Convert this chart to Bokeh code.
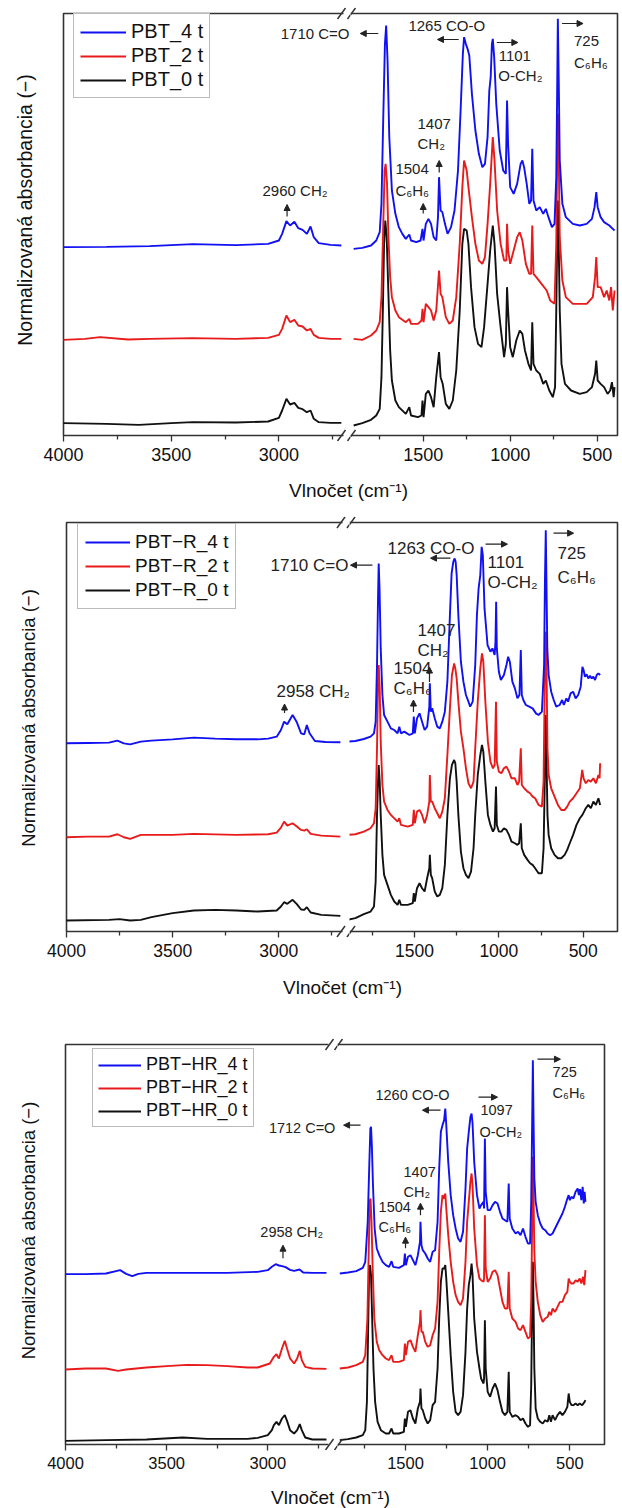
import math
from bokeh.plotting import figure
from bokeh.layouts import column, row
from bokeh.models import (Range1d, LinearAxis, FixedTicker, Legend, LegendItem,
                          Label, Arrow, NormalHead)
from bokeh.embed import file_html
from bokeh.resources import INLINE

# ----------------------------------------------------------------------------
# DATA  (wavenumber cm^-1, normalized absorbance incl. vertical offset)
# ----------------------------------------------------------------------------
pbt4 = [(4000, 0.570), (3800, 0.571), (3600, 0.573), (3400, 0.579), (3200, 0.576), (3050, 0.580),
        (3000, 0.590), (2985, 0.610), (2965, 0.648), (2948, 0.635), (2928, 0.646), (2910, 0.627),
        (2890, 0.622), (2870, 0.610), (2853, 0.632), (2838, 0.600), (2815, 0.582), (2760, 0.577),
        (2710, 0.575),
        (1900, 0.565), (1850, 0.568), (1800, 0.575), (1770, 0.590), (1750, 0.615), (1740, 0.700),
        (1730, 0.950), (1720, 1.180), (1713, 1.235), (1705, 1.130), (1695, 0.900), (1680, 0.740),
        (1660, 0.670), (1640, 0.630), (1620, 0.610), (1600, 0.595), (1580, 0.608), (1570, 0.590),
        (1540, 0.585), (1515, 0.590), (1504, 0.625), (1498, 0.590), (1485, 0.640), (1470, 0.655),
        (1455, 0.640), (1440, 0.600), (1425, 0.590), (1415, 0.660), (1409, 0.780), (1400, 0.680),
        (1390, 0.675), (1375, 0.640), (1360, 0.610), (1340, 0.630), (1320, 0.680), (1300, 0.800),
        (1285, 0.980), (1272, 1.150), (1265, 1.200), (1255, 1.180), (1245, 1.165), (1235, 1.145),
        (1220, 1.030), (1200, 0.920), (1180, 0.850), (1160, 0.810), (1145, 0.820), (1130, 0.900),
        (1120, 1.040), (1112, 1.080), (1105, 1.180), (1100, 1.195), (1092, 1.140), (1080, 1.000),
        (1060, 0.860), (1040, 0.800), (1025, 0.790), (1018, 1.010), (1012, 0.880), (1000, 0.750),
        (980, 0.730), (960, 0.760), (940, 0.820), (930, 0.830), (920, 0.810), (905, 0.760),
        (890, 0.700), (880, 0.710), (873, 0.865), (866, 0.710), (850, 0.680), (830, 0.690),
        (810, 0.670), (795, 0.685), (780, 0.660), (760, 0.630), (745, 0.640), (735, 0.780),
        (730, 1.030), (726, 1.255), (721, 1.080), (715, 0.830), (700, 0.700), (680, 0.660),
        (640, 0.640), (600, 0.635), (560, 0.640), (530, 0.655), (515, 0.690), (505, 0.735),
        (497, 0.690), (480, 0.660), (460, 0.645), (430, 0.635), (410, 0.625), (400, 0.620)]

pbt2 = [(4000, 0.292), (3900, 0.295), (3830, 0.300), (3700, 0.293), (3600, 0.295), (3400, 0.297),
        (3200, 0.295), (3050, 0.298), (3000, 0.307), (2985, 0.325), (2965, 0.365), (2948, 0.345),
        (2928, 0.352), (2910, 0.335), (2890, 0.332), (2870, 0.320), (2853, 0.325), (2838, 0.307),
        (2815, 0.298), (2760, 0.295), (2710, 0.295),
        (1900, 0.295), (1850, 0.292), (1800, 0.305), (1770, 0.320), (1750, 0.345), (1740, 0.420),
        (1730, 0.630), (1722, 0.800), (1716, 0.820), (1708, 0.760), (1700, 0.600), (1690, 0.480),
        (1680, 0.420), (1660, 0.380), (1640, 0.360), (1600, 0.345), (1580, 0.355), (1570, 0.340),
        (1530, 0.340), (1510, 0.350), (1504, 0.385), (1498, 0.345), (1485, 0.400), (1470, 0.390),
        (1455, 0.380), (1440, 0.350), (1425, 0.380), (1409, 0.500), (1400, 0.430), (1390, 0.420),
        (1370, 0.360), (1350, 0.340), (1330, 0.350), (1310, 0.420), (1290, 0.580), (1275, 0.750),
        (1265, 0.830), (1250, 0.800), (1240, 0.750), (1220, 0.660), (1200, 0.580), (1180, 0.530),
        (1160, 0.520), (1145, 0.540), (1130, 0.640), (1115, 0.760), (1100, 0.900), (1090, 0.830),
        (1075, 0.680), (1055, 0.580), (1035, 0.530), (1022, 0.530), (1018, 0.640), (1012, 0.560),
        (1000, 0.520), (980, 0.560), (960, 0.600), (945, 0.615), (930, 0.590), (910, 0.520),
        (890, 0.490), (880, 0.490), (873, 0.635), (866, 0.490), (850, 0.480), (820, 0.460),
        (790, 0.440), (770, 0.410), (745, 0.400), (735, 0.580), (730, 0.830), (726, 0.970),
        (721, 0.850), (715, 0.600), (700, 0.470), (680, 0.420), (640, 0.400), (600, 0.400),
        (560, 0.400), (525, 0.420), (512, 0.480), (505, 0.540), (497, 0.450), (480, 0.450),
        (460, 0.420), (445, 0.440), (430, 0.410), (420, 0.450), (410, 0.380), (400, 0.440)]

pbt0 = [(4000, 0.042), (3800, 0.040), (3650, 0.037), (3500, 0.042), (3400, 0.045), (3200, 0.044),
        (3050, 0.047), (3000, 0.058), (2985, 0.080), (2965, 0.115), (2948, 0.098), (2928, 0.103),
        (2910, 0.088), (2890, 0.084), (2870, 0.075), (2853, 0.080), (2838, 0.055), (2815, 0.045),
        (2760, 0.043), (2710, 0.043),
        (1900, 0.035), (1850, 0.042), (1800, 0.052), (1770, 0.065), (1750, 0.085), (1740, 0.180),
        (1732, 0.380), (1725, 0.580), (1718, 0.650), (1710, 0.600), (1700, 0.430), (1690, 0.260),
        (1680, 0.170), (1660, 0.110), (1640, 0.090), (1600, 0.070), (1580, 0.090), (1570, 0.065),
        (1530, 0.060), (1510, 0.065), (1504, 0.110), (1498, 0.060), (1485, 0.130), (1470, 0.140),
        (1455, 0.120), (1440, 0.090), (1425, 0.180), (1409, 0.255), (1400, 0.180), (1388, 0.160),
        (1370, 0.100), (1350, 0.085), (1330, 0.110), (1310, 0.200), (1290, 0.380), (1275, 0.580),
        (1265, 0.625), (1250, 0.620), (1240, 0.580), (1225, 0.450), (1205, 0.330), (1185, 0.280),
        (1165, 0.270), (1150, 0.330), (1130, 0.460), (1115, 0.560), (1100, 0.635), (1090, 0.580),
        (1075, 0.430), (1055, 0.330), (1035, 0.240), (1025, 0.280), (1018, 0.450), (1012, 0.380),
        (1000, 0.270), (985, 0.240), (965, 0.290), (945, 0.320), (930, 0.310), (915, 0.260),
        (895, 0.220), (880, 0.200), (873, 0.345), (866, 0.220), (850, 0.200), (830, 0.190),
        (810, 0.160), (795, 0.170), (775, 0.140), (755, 0.120), (742, 0.150), (735, 0.380),
        (730, 0.580), (726, 0.710), (721, 0.580), (715, 0.380), (705, 0.220), (685, 0.160),
        (650, 0.140), (600, 0.130), (560, 0.135), (530, 0.150), (512, 0.190), (505, 0.230),
        (497, 0.170), (480, 0.160), (460, 0.150), (440, 0.130), (425, 0.140), (415, 0.165),
        (405, 0.120), (400, 0.150)]

pbtr4 = [(4000, 0.565), (3900, 0.566), (3800, 0.567), (3760, 0.573), (3730, 0.565), (3700, 0.562),
         (3650, 0.570), (3600, 0.573), (3500, 0.577), (3400, 0.582), (3300, 0.579), (3200, 0.577),
         (3100, 0.577), (3050, 0.579), (3010, 0.585), (2990, 0.605), (2975, 0.630), (2960, 0.622),
         (2935, 0.650), (2915, 0.628), (2895, 0.595), (2880, 0.592), (2868, 0.620), (2855, 0.595),
         (2830, 0.572), (2780, 0.569), (2710, 0.568),
         (1900, 0.570), (1850, 0.572), (1800, 0.578), (1760, 0.585), (1740, 0.595), (1730, 0.630),
         (1722, 0.800), (1716, 1.000), (1712, 1.105), (1707, 1.030), (1700, 0.850), (1690, 0.710),
         (1680, 0.650), (1660, 0.630), (1640, 0.610), (1620, 0.605), (1600, 0.595), (1590, 0.615),
         (1580, 0.595), (1560, 0.600), (1530, 0.590), (1510, 0.595), (1504, 0.645), (1498, 0.595),
         (1485, 0.640), (1470, 0.655), (1455, 0.630), (1440, 0.605), (1425, 0.615), (1412, 0.675),
         (1409, 0.745), (1403, 0.660), (1395, 0.670), (1380, 0.640), (1365, 0.615), (1350, 0.610),
         (1335, 0.630), (1320, 0.660), (1305, 0.750), (1290, 0.950), (1280, 1.075), (1270, 1.110),
         (1262, 1.120), (1256, 1.110), (1250, 1.070), (1240, 0.950), (1225, 0.810), (1210, 0.750),
         (1195, 0.710), (1180, 0.690), (1170, 0.675), (1155, 0.690), (1140, 0.800), (1130, 0.950),
         (1120, 1.030), (1110, 1.070), (1102, 1.155), (1095, 1.130), (1085, 0.970), (1067, 0.860),
         (1050, 0.840), (1038, 0.850), (1025, 0.830), (1020, 0.870), (1016, 0.990), (1012, 0.850),
         (1000, 0.780), (988, 0.755), (970, 0.770), (955, 0.800), (945, 0.825), (935, 0.810),
         (920, 0.750), (905, 0.730), (890, 0.700), (878, 0.710), (870, 0.845), (864, 0.710),
         (855, 0.695), (840, 0.680), (820, 0.675), (800, 0.670), (780, 0.655), (765, 0.650),
         (745, 0.660), (732, 0.800), (727, 1.050), (722, 1.205), (718, 1.050), (713, 0.850),
         (705, 0.770), (690, 0.720), (675, 0.695), (660, 0.675), (640, 0.680), (625, 0.695),
         (615, 0.680), (600, 0.700), (590, 0.690), (575, 0.715), (560, 0.720), (545, 0.700),
         (530, 0.710), (515, 0.735), (505, 0.795), (498, 0.785), (490, 0.765), (480, 0.772),
         (470, 0.760), (460, 0.768), (450, 0.760), (440, 0.765), (430, 0.755), (420, 0.770),
         (410, 0.775), (400, 0.770)]

pbtr2 = [(4000, 0.283), (3900, 0.285), (3800, 0.285), (3760, 0.292), (3730, 0.283), (3700, 0.278),
         (3650, 0.290), (3500, 0.290), (3400, 0.293), (3200, 0.290), (3050, 0.292), (3010, 0.297),
         (2990, 0.312), (2975, 0.330), (2960, 0.318), (2935, 0.325), (2915, 0.315), (2895, 0.305),
         (2880, 0.303), (2868, 0.307), (2850, 0.293), (2800, 0.288), (2710, 0.285),
         (1900, 0.290), (1850, 0.292), (1800, 0.300), (1760, 0.310), (1740, 0.325), (1730, 0.370),
         (1722, 0.550), (1716, 0.750), (1712, 0.800), (1706, 0.730), (1700, 0.570), (1690, 0.440),
         (1680, 0.390), (1660, 0.365), (1640, 0.350), (1600, 0.330), (1590, 0.340), (1580, 0.320),
         (1540, 0.315), (1510, 0.320), (1504, 0.365), (1498, 0.325), (1485, 0.360), (1470, 0.365),
         (1455, 0.350), (1440, 0.325), (1425, 0.350), (1412, 0.390), (1409, 0.470), (1403, 0.390),
         (1395, 0.390), (1380, 0.370), (1365, 0.355), (1350, 0.340), (1335, 0.360), (1320, 0.400),
         (1305, 0.530), (1290, 0.670), (1278, 0.770), (1265, 0.805), (1258, 0.790), (1250, 0.760),
         (1240, 0.690), (1225, 0.600), (1210, 0.550), (1195, 0.490), (1180, 0.445), (1165, 0.430),
         (1150, 0.450), (1140, 0.550), (1125, 0.690), (1110, 0.790), (1100, 0.835), (1092, 0.810),
         (1080, 0.690), (1065, 0.570), (1050, 0.510), (1035, 0.490), (1025, 0.500), (1017, 0.690),
         (1012, 0.510), (1000, 0.480), (985, 0.475), (970, 0.490), (955, 0.495), (940, 0.480),
         (925, 0.460), (905, 0.460), (890, 0.440), (880, 0.450), (870, 0.550), (864, 0.440),
         (850, 0.430), (830, 0.420), (815, 0.415), (800, 0.405), (785, 0.400), (765, 0.380),
         (745, 0.375), (735, 0.450), (728, 0.750), (722, 0.900), (717, 0.770), (712, 0.550),
         (705, 0.470), (690, 0.430), (670, 0.405), (650, 0.380), (630, 0.365), (610, 0.365),
         (595, 0.375), (580, 0.390), (560, 0.400), (540, 0.415), (520, 0.430), (506, 0.485),
         (498, 0.460), (485, 0.445), (470, 0.455), (455, 0.450), (440, 0.460), (425, 0.445),
         (410, 0.470), (403, 0.460), (400, 0.505)]

pbtr0 = [(4000, 0.033), (3800, 0.035), (3750, 0.037), (3700, 0.033), (3650, 0.035), (3600, 0.043),
         (3500, 0.055), (3400, 0.063), (3300, 0.065), (3200, 0.063), (3100, 0.060), (3010, 0.063),
         (2990, 0.075), (2975, 0.088), (2960, 0.083), (2935, 0.095), (2915, 0.082), (2895, 0.066),
         (2880, 0.065), (2868, 0.073), (2850, 0.057), (2800, 0.050), (2710, 0.047),
         (1900, 0.035), (1850, 0.040), (1800, 0.052), (1760, 0.060), (1740, 0.075), (1730, 0.150),
         (1722, 0.350), (1716, 0.450), (1712, 0.500), (1706, 0.450), (1700, 0.350), (1690, 0.230),
         (1680, 0.170), (1660, 0.140), (1640, 0.110), (1620, 0.090), (1600, 0.080), (1590, 0.095),
         (1580, 0.080), (1540, 0.080), (1510, 0.085), (1504, 0.115), (1498, 0.090), (1485, 0.130),
         (1470, 0.145), (1455, 0.130), (1440, 0.120), (1425, 0.160), (1412, 0.190), (1409, 0.230),
         (1403, 0.170), (1395, 0.160), (1380, 0.120), (1365, 0.105), (1350, 0.110), (1335, 0.130),
         (1320, 0.200), (1305, 0.350), (1290, 0.460), (1278, 0.500), (1265, 0.515), (1258, 0.505),
         (1250, 0.450), (1240, 0.350), (1225, 0.240), (1210, 0.190), (1195, 0.170), (1180, 0.160),
         (1165, 0.180), (1150, 0.250), (1140, 0.350), (1125, 0.470), (1110, 0.530), (1100, 0.560),
         (1092, 0.540), (1080, 0.450), (1065, 0.350), (1050, 0.320), (1035, 0.300), (1025, 0.310),
         (1017, 0.435), (1012, 0.320), (1000, 0.300), (985, 0.300), (970, 0.310), (955, 0.305),
         (940, 0.290), (925, 0.270), (905, 0.265), (890, 0.260), (880, 0.265), (870, 0.325),
         (864, 0.250), (850, 0.230), (830, 0.215), (815, 0.205), (800, 0.200), (785, 0.190),
         (765, 0.175), (745, 0.175), (735, 0.250), (728, 0.450), (722, 0.650), (717, 0.500),
         (712, 0.350), (705, 0.290), (690, 0.250), (670, 0.230), (650, 0.220), (630, 0.220),
         (610, 0.230), (595, 0.245), (580, 0.265), (560, 0.290), (540, 0.320), (520, 0.340),
         (505, 0.350), (495, 0.360), (485, 0.370), (470, 0.380), (455, 0.370), (440, 0.390),
         (425, 0.380), (410, 0.400), (400, 0.380)]

pbthr4 = [(4000, 0.511), (3900, 0.511), (3800, 0.513), (3730, 0.523), (3700, 0.512), (3670, 0.505),
          (3640, 0.512), (3600, 0.515), (3400, 0.515), (3200, 0.515), (3050, 0.518), (3000, 0.523),
          (2980, 0.533), (2961, 0.541), (2945, 0.537), (2930, 0.535), (2912, 0.532), (2890, 0.524),
          (2870, 0.521), (2843, 0.525), (2825, 0.516), (2780, 0.515), (2710, 0.515),
          (1900, 0.513), (1850, 0.516), (1800, 0.520), (1760, 0.530), (1745, 0.548), (1730, 0.668),
          (1720, 0.848), (1714, 0.948), (1710, 0.953), (1705, 0.898), (1698, 0.778), (1688, 0.648),
          (1675, 0.588), (1660, 0.568), (1640, 0.548), (1620, 0.538), (1600, 0.533), (1585, 0.550),
          (1575, 0.533), (1540, 0.530), (1510, 0.538), (1504, 0.573), (1498, 0.538), (1485, 0.563),
          (1470, 0.568), (1455, 0.553), (1440, 0.538), (1425, 0.568), (1412, 0.608), (1409, 0.668),
          (1403, 0.598), (1395, 0.583), (1380, 0.573), (1365, 0.558), (1350, 0.548), (1335, 0.578),
          (1320, 0.583), (1305, 0.668), (1295, 0.828), (1285, 0.938), (1275, 0.958), (1265, 0.973),
          (1258, 1.008), (1252, 0.958), (1240, 0.848), (1225, 0.748), (1210, 0.688), (1195, 0.648),
          (1180, 0.618), (1165, 0.608), (1150, 0.638), (1135, 0.768), (1125, 0.888), (1115, 0.938),
          (1105, 0.983), (1098, 0.993), (1092, 0.963), (1082, 0.848), (1065, 0.748), (1050, 0.708),
          (1040, 0.718), (1025, 0.728), (1022, 0.708), (1017, 0.918), (1012, 0.758), (1000, 0.703),
          (985, 0.703), (970, 0.718), (955, 0.728), (940, 0.723), (925, 0.698), (910, 0.678),
          (895, 0.673), (880, 0.668), (872, 0.783), (866, 0.678), (850, 0.648), (830, 0.633),
          (815, 0.638), (800, 0.628), (785, 0.648), (770, 0.623), (755, 0.603), (742, 0.603),
          (735, 0.728), (729, 0.978), (725, 1.153), (721, 0.978), (716, 0.798), (708, 0.728),
          (695, 0.688), (680, 0.663), (665, 0.648), (650, 0.643), (635, 0.633), (620, 0.628),
          (605, 0.633), (590, 0.648), (575, 0.663), (560, 0.678), (545, 0.693), (530, 0.713),
          (515, 0.738), (507, 0.748), (500, 0.733), (490, 0.743), (478, 0.738), (465, 0.758),
          (452, 0.768), (445, 0.748), (438, 0.766), (430, 0.733), (422, 0.773), (415, 0.723),
          (410, 0.758), (405, 0.728)]

pbthr2 = [(4000, 0.225), (3900, 0.228), (3800, 0.228), (3740, 0.221), (3700, 0.225), (3600, 0.231),
          (3500, 0.235), (3400, 0.239), (3300, 0.238), (3200, 0.235), (3100, 0.231), (3050, 0.231),
          (2990, 0.243), (2970, 0.263), (2957, 0.271), (2945, 0.258), (2930, 0.288), (2916, 0.311),
          (2905, 0.288), (2890, 0.258), (2870, 0.243), (2855, 0.258), (2842, 0.281), (2832, 0.253),
          (2815, 0.233), (2780, 0.228), (2710, 0.227),
          (1900, 0.228), (1850, 0.231), (1800, 0.238), (1760, 0.248), (1745, 0.268), (1732, 0.378),
          (1724, 0.578), (1718, 0.728), (1713, 0.738), (1707, 0.668), (1700, 0.528), (1690, 0.378),
          (1675, 0.308), (1660, 0.283), (1640, 0.268), (1620, 0.258), (1600, 0.253), (1585, 0.268),
          (1575, 0.248), (1540, 0.248), (1510, 0.253), (1504, 0.303), (1498, 0.268), (1485, 0.308),
          (1470, 0.313), (1455, 0.293), (1440, 0.278), (1425, 0.328), (1412, 0.368), (1409, 0.403),
          (1403, 0.338), (1395, 0.338), (1380, 0.308), (1365, 0.293), (1350, 0.298), (1335, 0.328),
          (1320, 0.348), (1305, 0.428), (1295, 0.578), (1285, 0.698), (1275, 0.748), (1265, 0.738),
          (1258, 0.753), (1252, 0.708), (1240, 0.628), (1225, 0.548), (1210, 0.488), (1195, 0.448),
          (1180, 0.428), (1165, 0.418), (1150, 0.438), (1135, 0.548), (1125, 0.668), (1115, 0.728),
          (1105, 0.788), (1098, 0.813), (1092, 0.778), (1082, 0.648), (1065, 0.538), (1050, 0.498),
          (1040, 0.493), (1025, 0.488), (1022, 0.498), (1017, 0.688), (1012, 0.528), (1000, 0.488),
          (985, 0.498), (970, 0.518), (955, 0.523), (940, 0.508), (925, 0.468), (910, 0.428),
          (895, 0.408), (880, 0.408), (872, 0.518), (866, 0.408), (850, 0.378), (830, 0.368),
          (815, 0.348), (800, 0.343), (785, 0.358), (770, 0.338), (755, 0.318), (742, 0.323),
          (735, 0.428), (729, 0.678), (725, 0.863), (721, 0.748), (716, 0.578), (708, 0.488),
          (695, 0.428), (680, 0.388), (665, 0.368), (650, 0.378), (635, 0.383), (625, 0.398),
          (615, 0.388), (605, 0.408), (590, 0.398), (575, 0.413), (560, 0.428), (545, 0.428),
          (530, 0.448), (515, 0.458), (507, 0.498), (500, 0.488), (490, 0.483), (478, 0.483),
          (465, 0.493), (452, 0.488), (440, 0.498), (430, 0.483), (420, 0.503), (412, 0.478),
          (405, 0.523)]

pbthr0 = [(4000, 0.011), (3800, 0.013), (3600, 0.015), (3420, 0.021), (3300, 0.017), (3100, 0.017),
          (3050, 0.020), (3000, 0.028), (2980, 0.043), (2970, 0.058), (2957, 0.068), (2945, 0.058),
          (2930, 0.078), (2916, 0.088), (2905, 0.071), (2890, 0.043), (2870, 0.033), (2855, 0.043),
          (2842, 0.061), (2832, 0.043), (2815, 0.021), (2780, 0.015), (2710, 0.015),
          (1900, 0.013), (1850, 0.016), (1800, 0.021), (1760, 0.028), (1745, 0.043), (1735, 0.128),
          (1728, 0.328), (1722, 0.508), (1716, 0.538), (1710, 0.508), (1703, 0.378), (1695, 0.228),
          (1685, 0.128), (1670, 0.068), (1650, 0.043), (1620, 0.033), (1600, 0.033), (1585, 0.048),
          (1575, 0.033), (1540, 0.033), (1510, 0.038), (1504, 0.078), (1498, 0.053), (1485, 0.098),
          (1470, 0.103), (1455, 0.078), (1440, 0.063), (1425, 0.108), (1412, 0.128), (1409, 0.168),
          (1403, 0.108), (1395, 0.103), (1380, 0.078), (1365, 0.063), (1350, 0.073), (1335, 0.118),
          (1320, 0.128), (1305, 0.228), (1295, 0.378), (1285, 0.488), (1275, 0.528), (1265, 0.528),
          (1258, 0.538), (1252, 0.498), (1240, 0.398), (1225, 0.268), (1210, 0.158), (1195, 0.098),
          (1180, 0.088), (1165, 0.098), (1150, 0.148), (1135, 0.278), (1125, 0.408), (1115, 0.478),
          (1105, 0.508), (1098, 0.543), (1092, 0.508), (1082, 0.378), (1065, 0.278), (1050, 0.228),
          (1040, 0.198), (1025, 0.183), (1022, 0.198), (1017, 0.373), (1012, 0.228), (1000, 0.158),
          (985, 0.143), (970, 0.168), (955, 0.183), (940, 0.163), (925, 0.128), (910, 0.098),
          (895, 0.088), (880, 0.098), (872, 0.218), (866, 0.098), (850, 0.083), (830, 0.088),
          (815, 0.083), (800, 0.073), (785, 0.078), (770, 0.063), (755, 0.053), (742, 0.058),
          (735, 0.178), (729, 0.428), (725, 0.548), (721, 0.428), (716, 0.228), (708, 0.108),
          (695, 0.078), (680, 0.068), (665, 0.063), (650, 0.073), (635, 0.068), (625, 0.088),
          (615, 0.068), (605, 0.088), (590, 0.073), (575, 0.088), (560, 0.098), (545, 0.088),
          (530, 0.098), (515, 0.113), (507, 0.153), (500, 0.128), (490, 0.118), (478, 0.118),
          (465, 0.123), (452, 0.118), (440, 0.123), (425, 0.118), (410, 0.128), (405, 0.133)]

left_ticks = [4000, 3500, 3000]
left_minor = [3750, 3250, 2750]
right_ticks = [1500, 1000, 500]
right_minor = [1750, 1250, 750]
x_label = "Vlnočet (cm⁻¹)"
y_label = "Normalizovaná absorbancia (−)"

# ----------------------------------------------------------------------------
FONT = "Liberation Sans"
AXC = "#333333"
TXT = "#222222"
BLUE = "#1010f2"
RED = "#e81a1a"
BLACK = "#111111"
LW = 1.9
XL0 = 8     # left edge of the (invisible) plotting frame of the left half, px
E = 6       # frame extension beyond the drawn box (top / bottom), px
EX = 3      # frame extension beyond the drawn box on the far right, px

panels = [
    dict(series=[(pbt4, BLUE, "PBT_4 t"), (pbt2, RED, "PBT_2 t"), (pbt0, BLACK, "PBT_0 t")],
         ML=63, LFW=280, GAP=7, RFW=267, RB=5, MT=13, FH=422, MB=33,
         yr=(0.005, 1.271), rr=(1918, 383),
         tick_fs="18px", ann_fs="15px", leg_fs="20px",
         leg_box=(73, 98), leg_pad=6, leg_sp=1, leg_gw=46,
         ylab=(24, 209.5, "19.5px"), strip=(41, 348, 22, "19px"), slashes=(341, 351),
         texts=[("L", 2672, 1.211, "1710 C=O", "right"),
                ("R", 1585, 1.235, "1265 CO-O", "left"),
                ("R", 1066, 1.145, "1101", "left"),
                ("R", 1068, 1.085, "O-CH₂", "left"),
                ("R", 633, 1.190, "725", "left"),
                ("R", 633, 1.124, "C₆H₆", "left"),
                ("R", 1533, 0.941, "1407", "left"),
                ("R", 1533, 0.881, "CH₂", "left"),
                ("R", 1660, 0.806, "1504", "left"),
                ("R", 1660, 0.740, "C₆H₆", "left"),
                ("L", 3076, 0.740, "2960 CH₂", "left")],
         arrows=[("R", 1758, 1.211, 1862, 1.211),
                 ("R", 1296, 1.193, 1418, 1.193),
                 ("R", 1077, 1.184, 956, 1.184),
                 ("R", 702, 1.241, 581, 1.241),
                 ("R", 1408, 0.794, 1408, 0.830),
                 ("R", 1500, 0.671, 1500, 0.701),
                 ("L", 2962, 0.662, 2962, 0.698)]),
    dict(series=[(pbtr4, BLUE, "PBT−R_4 t"), (pbtr2, RED, "PBT−R_2 t"), (pbtr0, BLACK, "PBT−R_0 t")],
         ML=66, LFW=276, GAP=7, RFW=268, RB=5, MT=13, FH=409, MB=33,
         yr=(0.0, 1.228), rr=(1885, 297),
         tick_fs="17.5px", ann_fs="17px", leg_fs="19px",
         leg_box=(77, 100), leg_pad=7, leg_sp=2, leg_gw=45,
         ylab=(28, 208.5, "18.5px"), strip=(36, 342, 23, "19px"), slashes=(340.5, 350.5),
         texts=[("L", 2672, 1.100, "1710 C=O", "right"),
                ("R", 1660, 1.151, "1263 CO-O", "left"),
                ("R", 1067, 1.109, "1101", "left"),
                ("R", 1067, 1.049, "O-CH₂", "left"),
                ("R", 652, 1.136, "725", "left"),
                ("R", 652, 1.064, "C₆H₆", "left"),
                ("R", 1482, 0.905, "1407", "left"),
                ("R", 1482, 0.845, "CH₂", "left"),
                ("R", 1624, 0.791, "1504", "left"),
                ("R", 1624, 0.731, "C₆H₆", "left"),
                ("L", 3011, 0.722, "2958 CH₂", "left")],
         arrows=[("R", 1749, 1.100, 1879, 1.100),
                 ("R", 1287, 1.121, 1405, 1.121),
                 ("R", 1079, 1.163, 949, 1.163),
                 ("R", 676, 1.196, 557, 1.196),
                 ("R", 1411, 0.749, 1411, 0.794),
                 ("R", 1506, 0.659, 1506, 0.695),
                 ("L", 2973, 0.656, 2973, 0.683)]),
    dict(series=[(pbthr4, BLUE, "PBT−HR_4 t"), (pbthr2, RED, "PBT−HR_2 t"), (pbthr0, BLACK, "PBT−HR_0 t")],
         ML=65, LFW=263, GAP=9, RFW=267, RB=18, MT=44, FH=400, MB=33,
         yr=(0.0, 1.2), rr=(1914, 289),
         tick_fs="16.5px", ann_fs="14.5px", leg_fs="18px",
         leg_box=(92, 127), leg_pad=5, leg_sp=2, leg_gw=43,
         ylab=(28, 230, "18.5px"), strip=(31, 330, 20, "19px"), slashes=(329, 338),
         texts=[("L", 2666, 0.949, "1712 C=O", "right"),
                ("R", 1683, 1.048, "1260 CO-O", "left"),
                ("R", 1044, 1.003, "1097", "left"),
                ("R", 1050, 0.937, "O-CH₂", "left"),
                ("R", 605, 1.117, "725", "left"),
                ("R", 605, 1.054, "C₆H₆", "left"),
                ("R", 1512, 0.817, "1407", "left"),
                ("R", 1512, 0.757, "CH₂", "left"),
                ("R", 1664, 0.712, "1504", "left"),
                ("R", 1664, 0.652, "C₆H₆", "left"),
                ("L", 3037, 0.637, "2958 CH₂", "left")],
         arrows=[("R", 1774, 0.958, 1877, 0.958),
                 ("R", 1287, 1.003, 1397, 1.003),
                 ("R", 1056, 1.042, 940, 1.042),
                 ("R", 697, 1.156, 557, 1.156),
                 ("R", 1409, 0.688, 1409, 0.724),
                 ("R", 1500, 0.589, 1500, 0.622),
                 ("L", 2925, 0.559, 2925, 0.598)]),
]


def base_fig(fw, fh, xr, yr, ml, mr, mt, mb):
    f = figure(frame_width=fw, frame_height=fh, x_range=Range1d(*xr), y_range=Range1d(*yr),
               min_border_left=ml, min_border_right=mr, min_border_top=mt, min_border_bottom=mb,
               x_axis_location=None, y_axis_location=None, toolbar_location=None,
               output_backend="svg")
    f.outline_line_color = None
    f.background_fill_color = "white"
    f.border_fill_color = "white"
    for g in f.grid:
        g.visible = False
    return f


def add_bottom_axis(f, ticks, minor, fs):
    ax = LinearAxis(ticker=FixedTicker(ticks=ticks, minor_ticks=minor),
                    axis_line_color=None,
                    major_tick_line_color=AXC, minor_tick_line_color=AXC,
                    major_tick_line_width=1.3, minor_tick_line_width=1.3,
                    major_tick_in=E, major_tick_out=0,
                    minor_tick_in=E, minor_tick_out=-2,
                    major_label_text_font=FONT, major_label_text_font_size=fs,
                    major_label_text_color="#111111", major_label_standoff=6)
    f.add_layout(ax, "below")


rows = []
for P in panels:
    y0, y1 = P["yr"]
    rr0, rr1 = P["rr"]
    ML, LFW, GAP, RFW, MT, FH = P["ML"], P["LFW"], P["GAP"], P["RFW"], P["MT"], P["FH"]
    sL = LFW / 1300.0
    sR = RFW / float(rr0 - rr1)
    sy = FH / (y1 - y0)
    rx0 = ML + LFW + GAP

    def lx(px):
        return 4000 - (px - ML) / sL

    def rxd(px):
        return rr0 - (px - rx0) / sR

    def yd(py):
        return y1 - (py - MT) / sy

    yrange = (y0 - E / sy, y1 + E / sy)
    left = base_fig(rx0 - XL0, FH + 2 * E, (lx(XL0), lx(rx0)), yrange,
                    XL0, 0, MT - E, P["MB"] - E)
    right = base_fig(RFW + EX, FH + 2 * E, (rr0, rxd(rx0 + RFW + EX)), yrange,
                     0, P["RB"] - EX, MT - E, P["MB"] - E)

    add_bottom_axis(left, left_ticks, left_minor, P["tick_fs"])
    add_bottom_axis(right, right_ticks, right_minor, P["tick_fs"])

    # drawn box (two halves of a broken frame)
    left.line([2700, 4000, 4000, 2700], [y1, y1, y0, y0], line_color=AXC, line_width=1.6)
    right.line([rr0, rr1, rr1, rr0], [y1, y1, y0, y0], line_color=AXC, line_width=1.6)

    items = []
    for data, col, lab in reversed(P["series"]):
        lxs = [w for w, a in data if w >= 2700]
        lys = [a for w, a in data if w >= 2700]
        rxs = [w for w, a in data if w < 2700]
        rys = [a for w, a in data if w < 2700]
        rl = left.line(lxs, lys, line_color=col, line_width=LW)
        right.line(rxs, rys, line_color=col, line_width=LW)
        items.append(LegendItem(label=lab, renderers=[rl]))
    items = list(reversed(items))

    bx, bb = P["leg_box"]
    leg = Legend(items=items, location=(bx - XL0, (MT + FH + E) - bb),
                 padding=P["leg_pad"], spacing=P["leg_sp"],
                 glyph_width=P["leg_gw"], glyph_height=20, label_height=20, label_standoff=5,
                 label_text_font=FONT, label_text_font_size=P["leg_fs"], label_text_color="#111111",
                 border_line_color="#777777", border_line_width=1, background_fill_alpha=1.0,
                 margin=0)
    left.add_layout(leg)

    figs = {"L": left, "R": right}
    for which, x, y, txt, align in P["texts"]:
        figs[which].add_layout(Label(x=x, y=y, text=txt, text_align=align, text_baseline="middle",
                                     text_font=FONT, text_font_size=P["ann_fs"], text_color=TXT))
    for which, x0, ya, x1, yb in P["arrows"]:
        figs[which].add_layout(Arrow(x_start=x0, y_start=ya, x_end=x1, y_end=yb,
                                     line_color=TXT, line_width=1.2,
                                     end=NormalHead(size=6, fill_color=TXT, line_color=TXT,
                                                    line_width=1)))

    ypx, ypy, yfs = P["ylab"]
    left.add_layout(Label(x=lx(ypx), y=yd(ypy), text=y_label, angle=math.pi / 2,
                          text_align="center", text_baseline="middle", text_font=FONT,
                          text_font_size=yfs, text_color="#111111"))

    # axis-break marks "//" (drawn in both halves so each frame shows its part)
    sx0, sy0, sx1, sy1 = [], [], [], []
    tx0, ty0, tx1, ty1 = [], [], [], []
    for cx in P["slashes"]:
        for cy in (MT, MT + FH):
            sx0.append(lx(cx - 4)); sy0.append(yd(cy + 5.5))
            sx1.append(lx(cx + 4)); sy1.append(yd(cy - 5.5))
            tx0.append(rxd(cx - 4)); ty0.append(yd(cy + 5.5))
            tx1.append(rxd(cx + 4)); ty1.append(yd(cy - 5.5))
    left.segment(sx0, sy0, sx1, sy1, line_color=AXC, line_width=1.5)
    right.segment(tx0, ty0, tx1, ty1, line_color=AXC, line_width=1.5)

    h, cx, cy, fs = P["strip"]
    strip = figure(frame_width=622, frame_height=h, x_range=Range1d(0, 622), y_range=Range1d(h, 0),
                   min_border=0, x_axis_location=None, y_axis_location=None,
                   toolbar_location=None, output_backend="svg")
    strip.outline_line_color = None
    for g in strip.grid:
        g.visible = False
    strip.add_layout(Label(x=cx, y=cy, text=x_label, text_align="center", text_baseline="middle",
                           text_font=FONT, text_font_size=fs, text_color="#111111"))

    rows.append(row(left, right, spacing=0))
    rows.append(strip)

layout = column(*rows, spacing=0)
open("out.html", "w").write(file_html(layout, INLINE))
